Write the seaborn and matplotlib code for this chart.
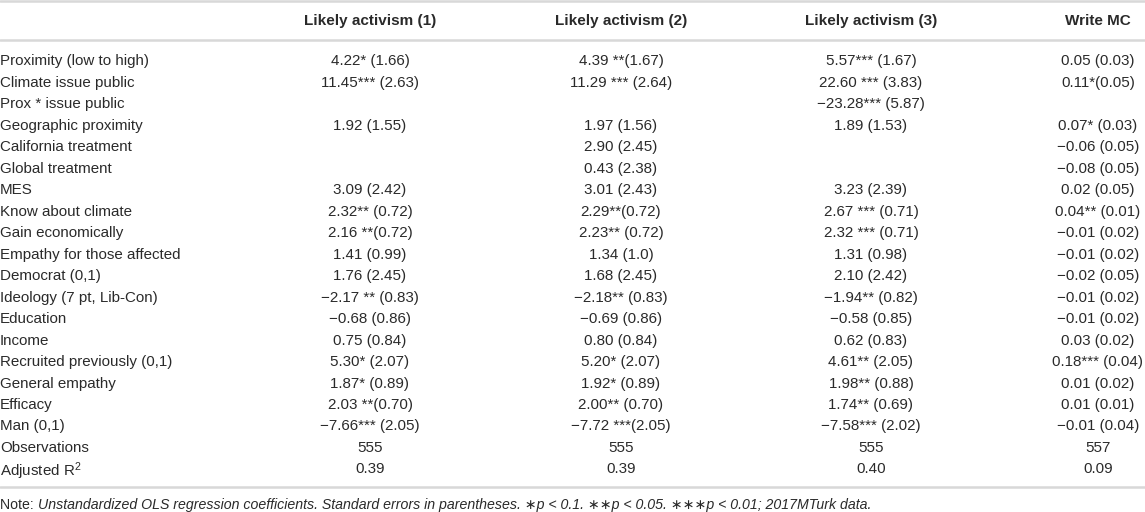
"""
Regression table: likely activism and writing to MC (2017 MTurk data)
"""

import matplotlib.pyplot as plt
import seaborn as sns

# -----------------------------
# Table content
# -----------------------------
headers = ["Likely activism (1)", "Likely activism (2)", "Likely activism (3)", "Write MC"]

row_labels = [
    "Proximity (low to high)", "Climate issue public", "Prox * issue public",
    "Geographic proximity", "California treatment", "Global treatment", "MES",
    "Know about climate", "Gain economically", "Empathy for those affected",
    "Democrat (0,1)", "Ideology (7 pt, Lib-Con)", "Education", "Income",
    "Recruited previously (0,1)", "General empathy", "Efficacy", "Man (0,1)",
    "Observations", "Adjusted R$^{2}$",
]

activism_1 = [
    "4.22* (1.66)", "11.45*** (2.63)", "", "1.92 (1.55)", "", "", "3.09 (2.42)",
    "2.32** (0.72)", "2.16 **(0.72)", "1.41 (0.99)", "1.76 (2.45)",
    "−2.17 ** (0.83)", "−0.68 (0.86)", "0.75 (0.84)", "5.30* (2.07)",
    "1.87* (0.89)", "2.03 **(0.70)", "−7.66*** (2.05)", "555", "0.39",
]

activism_2 = [
    "4.39 **(1.67)", "11.29 *** (2.64)", "", "1.97 (1.56)", "2.90 (2.45)",
    "0.43 (2.38)", "3.01 (2.43)", "2.29**(0.72)", "2.23** (0.72)", "1.34 (1.0)",
    "1.68 (2.45)", "−2.18** (0.83)", "−0.69 (0.86)", "0.80 (0.84)",
    "5.20* (2.07)", "1.92* (0.89)", "2.00** (0.70)", "−7.72 ***(2.05)", "555", "0.39",
]

activism_3 = [
    "5.57*** (1.67)", "22.60 *** (3.83)", "−23.28*** (5.87)", "1.89 (1.53)", "", "",
    "3.23 (2.39)", "2.67 *** (0.71)", "2.32 *** (0.71)", "1.31 (0.98)",
    "2.10 (2.42)", "−1.94** (0.82)", "−0.58 (0.85)", "0.62 (0.83)",
    "4.61** (2.05)", "1.98** (0.88)", "1.74** (0.69)", "−7.58*** (2.02)", "555", "0.40",
]

write_mc = [
    "0.05 (0.03)", "0.11*(0.05)", "", "0.07* (0.03)", "−0.06 (0.05)",
    "−0.08 (0.05)", "0.02 (0.05)", "0.04** (0.01)", "−0.01 (0.02)",
    "−0.01 (0.02)", "−0.02 (0.05)", "−0.01 (0.02)", "−0.01 (0.02)",
    "0.03 (0.02)", "0.18*** (0.04)", "0.01 (0.02)", "0.01 (0.01)",
    "−0.01 (0.04)", "557", "0.09",
]

note_prefix = "Note: "
note_body = ("Unstandardized OLS regression coefficients. Standard errors in parentheses. "
             "∗p < 0.1. ∗∗p < 0.05. ∗∗∗p < 0.01; 2017MTurk data.")

# -----------------------------
# Style
# -----------------------------
sns.set_theme(style="white")
plt.rcParams['font.family'] = ['Liberation Sans', 'DejaVu Sans']
plt.rcParams['mathtext.fontset'] = 'custom'
plt.rcParams['mathtext.rm'] = 'Liberation Sans'
plt.rcParams['mathtext.default'] = 'rm'

text_color = "#2a2a2a"
rule_color = "#d8d8d8"
fs = 10.9
fs_head = 11.0
fs_note = 10.2

col_x = [370, 621, 871, 1098]
label_x = 0
header_y = 21
row_y0 = 60
row_step = 21.47

fig = plt.figure(figsize=(11.45, 5.12), dpi=100)
ax = fig.add_axes([0, 0, 1, 1])
ax.set_xlim(0, 1145)
ax.set_ylim(512, 0)
ax.axis('off')

# rules
for y in [1, 40, 487]:
    ax.axhline(y, color=rule_color, lw=1.8)

# header
for x, h in zip(col_x, headers):
    ax.text(x, header_y, h, ha='center', va='center', fontsize=fs_head,
            fontweight='bold', color=text_color)

# body
columns = [activism_1, activism_2, activism_3, write_mc]
for i, label in enumerate(row_labels):
    y = row_y0 + i * row_step
    ax.text(label_x, y, label, ha='left', va='center_baseline', fontsize=fs,
            color=text_color)
    for x, col in zip(col_x, columns):
        if col[i]:
            ax.text(x, y, col[i], ha='center', va='center_baseline', fontsize=fs,
                    color=text_color)

# note
note = ax.text(label_x, 505, note_prefix, ha='left', va='center', fontsize=fs_note,
               color=text_color)
fig.canvas.draw()
bb = note.get_window_extent()
x_end = ax.transData.inverted().transform((bb.x1, bb.y0))[0]
ax.text(x_end, 505, note_body, ha='left', va='center', fontsize=fs_note,
        style='italic', color=text_color)

plt.savefig('out.png', dpi=100)
plt.close()
